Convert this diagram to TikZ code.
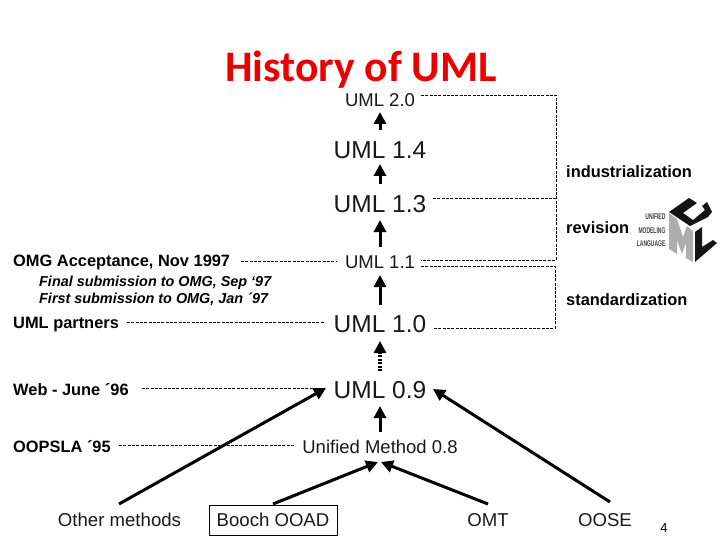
\documentclass[tikz,border=0pt]{standalone}
\usepackage{fontspec}
\setmainfont{Liberation Sans}
\newfontfamily\titlefont{Carlito}
\usetikzlibrary{arrows.meta}
\tikzset{
  ver/.style={inner sep=0pt,anchor=base,text=black!90},
  lab/.style={inner sep=0pt,anchor=base west,font=\fontsize{16.4}{16}\selectfont\bfseries},
  sub/.style={inner sep=0pt,anchor=base west,font=\fontsize{14.4}{14}\selectfont\bfseries\itshape},
  guide/.style={draw=black,line width=0.7pt,dash pattern=on 3pt off 1.3pt},
  flow/.style={draw=black,line width=3pt,-{Triangle[length=12pt,width=12pt]}},
  flowd/.style={draw=black,line width=3.4pt,dash pattern=on 2pt off 1.5pt,-{Triangle[length=12pt,width=12pt]}},
  logotext/.style={inner sep=0pt,anchor=base east,xscale=0.6,font=\fontsize{8.3}{8}\selectfont\bfseries,text=black!75},
}
\begin{document}
\begin{tikzpicture}[x=1pt,y=-1pt]
\useasboundingbox (0,0) rectangle (720,540);
\node[inner sep=0pt,anchor=base,text=red!92!black,font=\titlefont\fontsize{43.6}{44}\selectfont\bfseries] (title) at (361,82) {History of UML};
% versions
\node[ver,font=\fontsize{18.5}{18}\selectfont] (u20) at (380,107) {UML 2.0};
\node[ver,font=\fontsize{24.5}{24}\selectfont] (u14) at (380,158.5) {UML 1.4};
\node[ver,font=\fontsize{24.5}{24}\selectfont] (u13) at (380,212) {UML 1.3};
\node[ver,font=\fontsize{18.5}{18}\selectfont] (u11) at (380,268) {UML 1.1};
\node[ver,font=\fontsize{24.5}{24}\selectfont] (u10) at (380,332.5) {UML 1.0};
\node[ver,font=\fontsize{24.5}{24}\selectfont] (u09) at (380,398) {UML 0.9};
\node[ver,font=\fontsize{18.5}{18}\selectfont] (u08) at (380,453) {Unified Method 0.8};
% sources
\node[ver,font=\fontsize{18.6}{18}\selectfont] (other) at (119.5,526) {Other methods};
\node[draw=black,line width=0.8pt,inner sep=0pt,minimum width=128pt,minimum height=30pt,text=black!90,font=\fontsize{18.6}{18}\selectfont] (booch) at (273,520) {Booch OOAD};
\node[ver,font=\fontsize{18.6}{18}\selectfont] (omt) at (488,526) {OMT};
\node[ver,font=\fontsize{18.6}{18}\selectfont] (oose) at (605,526) {OOSE};
\node[inner sep=0pt,anchor=base,font=\fontsize{13}{13}\selectfont] (num) at (664,532) {4};
% labels
\node[lab] (omg) at (13,266.5) {OMG Acceptance, Nov 1997};
\node[sub] (fin) at (39,286.5) {Final submission to OMG, Sep ‘97};
\node[sub] (fir) at (39,303.5) {First submission to OMG, Jan ´97};
\node[lab] (par) at (13,328.5) {UML partners};
\node[lab] (web) at (13,395) {Web - June ´96};
\node[lab] (oop) at (13,452) {OOPSLA ´95};
\node[lab] (ind) at (566,178) {industrialization};
\node[lab] (rev) at (566,233.5) {revision};
\node[lab] (std) at (566,305.5) {standardization};
% arrows
\coordinate (a1) at (380,130); \coordinate (a1e) at (380,112);
\coordinate (a2) at (380,184); \coordinate (a2e) at (380,164);
\coordinate (a3) at (380,247); \coordinate (a3e) at (380,220);
\coordinate (a4) at (380,305); \coordinate (a4e) at (380,275);
\coordinate (a5) at (380,371); \coordinate (a5e) at (380,341);
\coordinate (a6) at (380,432); \coordinate (a6e) at (380,406);
\draw[flow] (a1) -- (a1e);
\draw[flow] (a2) -- (a2e);
\draw[flow] (a3) -- (a3e);
\draw[flow] (a4) -- (a4e);
\draw[flowd] (a5) -- (a5e);
\draw[flow] (a6) -- (a6e);
\coordinate (o1) at (119,504); \coordinate (o1e) at (326,388);
\coordinate (b1) at (273,504); \coordinate (b1e) at (378,462);
\coordinate (m1) at (488,504); \coordinate (m1e) at (381,462);
\coordinate (s1) at (610,502); \coordinate (s1e) at (433,389);
\draw[flow] (o1) -- (o1e);
\draw[flow] (b1) -- (b1e);
\draw[flow] (m1) -- (m1e);
\draw[flow] (s1) -- (s1e);
% guides
\coordinate (g1) at (241,261); \coordinate (g1e) at (337,261);
\coordinate (g2) at (127,322); \coordinate (g2e) at (324,322);
\coordinate (g3) at (142,388); \coordinate (g3e) at (318,388);
\coordinate (g4) at (119,445); \coordinate (g4e) at (294,445);
\draw[guide] (g1) -- (g1e);
\draw[guide] (g2) -- (g2e);
\draw[guide] (g3) -- (g3e);
\draw[guide] (g4) -- (g4e);
\coordinate (r20) at (421,95); \coordinate (c20) at (556,95);
\coordinate (r13) at (433,198); \coordinate (c13) at (556,198);
\coordinate (r11) at (421,260); \coordinate (c11) at (556,260);
\coordinate (r11b) at (421,266); \coordinate (c11b) at (555,266);
\coordinate (r10) at (434,328); \coordinate (c10) at (555,328);
\draw[guide] (r20) -- (c20) -- (c11) -- (r11);
\draw[guide] (r13) -- (c13);
\draw[guide] (r11b) -- (c11b) -- (c10) -- (r10);
% logo
\node[logotext] (l1) at (665.5,220) {UNIFIED};
\node[logotext] (l2) at (665.5,233.5) {MODELING};
\node[logotext] (l3) at (665.5,246.5) {LANGUAGE};
\fill[black!32] (669,213) -- (677,219) -- (683,237) -- (687,226) -- (693,231) -- (693,262) -- (686,258) -- (686,243) -- (682,254) -- (677,240) -- (677,254) -- (669,249) -- cycle;
\fill[black!92] (669,212) -- (689,198) -- (697,203) -- (683,213) -- (693,220) -- (705,210) -- (702,206) -- (707,202) -- (712,212) -- (708,217) -- (690,226) -- cycle;
\fill[black!92] (695,232) -- (702,227) -- (702,247) -- (713,240) -- (717,243) -- (695,262) -- cycle;
\end{tikzpicture}
\end{document}
